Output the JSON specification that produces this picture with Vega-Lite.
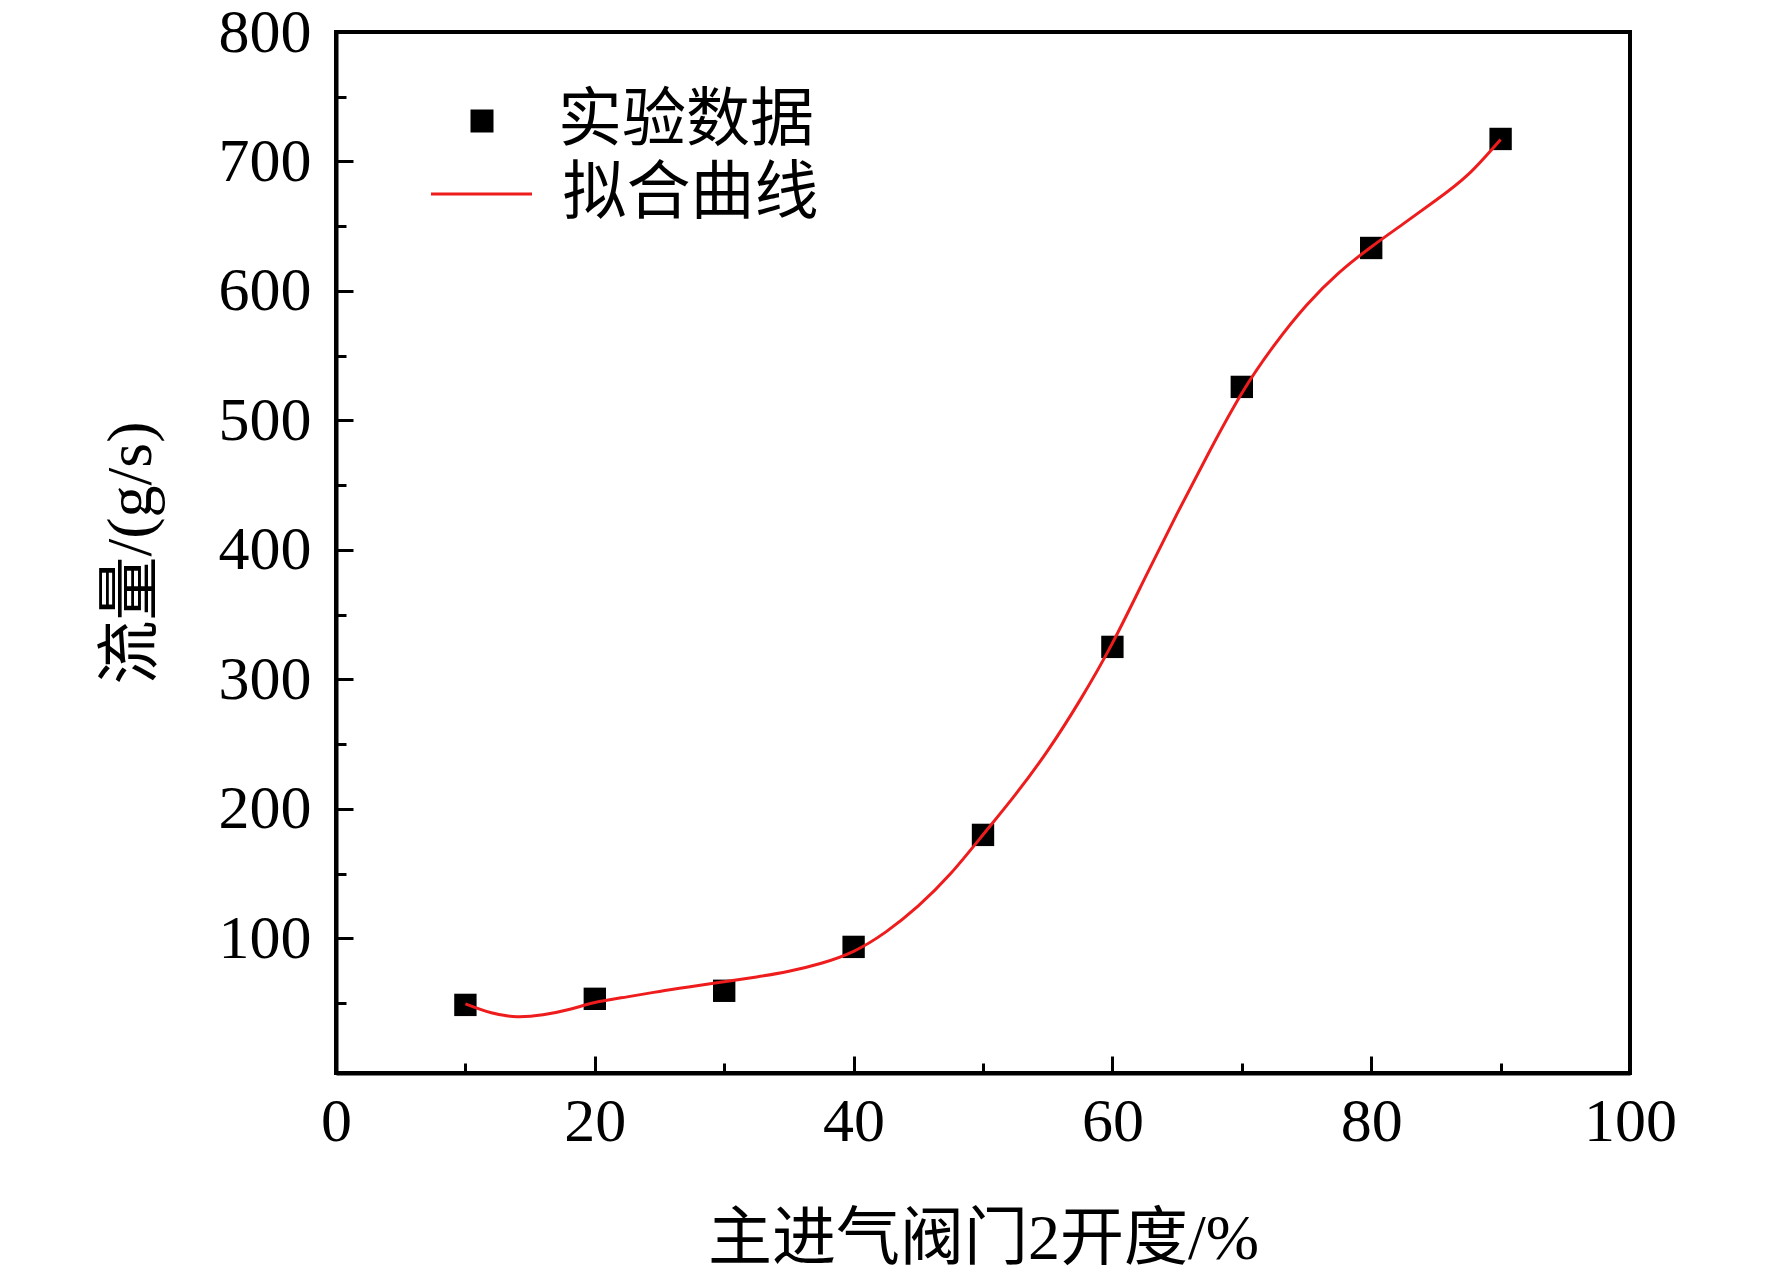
{
  "$schema": "https://vega.github.io/schema/vega-lite/v6.json",
  "width": 1294,
  "height": 1041,
  "autosize": {"type": "none"},
  "padding": {"left": 336, "top": 32, "right": 142, "bottom": 203},
  "background": "white",
  "config": {
    "view": {"stroke": "black", "strokeWidth": 4},
    "axis": {
      "grid": false,
      "domainColor": "black",
      "domainWidth": 4,
      "tickColor": "black",
      "tickWidth": 3,
      "labelColor": "black",
      "labelFont": "Liberation Serif",
      "labelFontSize": 62,
      "titleFont": "Liberation Serif, Noto Sans CJK SC",
      "titleFontSize": 64,
      "titleFontWeight": "normal",
      "titleColor": "black"
    },
    "legend": {
      "orient": "none",
      "title": null,
      "padding": 0,
      "symbolOffset": 0,
      "clipHeight": 72,
      "labelLimit": 0,
      "labelFont": "Liberation Serif, Noto Sans CJK SC",
      "labelFontSize": 64,
      "labelColor": "black"
    }
  },
  "datasets": {
    "points": [
      {"opening": 10, "flow": 48.6, "series": "实验数据"},
      {"opening": 20, "flow": 53.3, "series": "实验数据"},
      {"opening": 30, "flow": 59.5, "series": "实验数据"},
      {"opening": 40, "flow": 93.4, "series": "实验数据"},
      {"opening": 50, "flow": 179.9, "series": "实验数据"},
      {"opening": 60, "flow": 325.1, "series": "实验数据"},
      {"opening": 70, "flow": 525.9, "series": "实验数据"},
      {"opening": 80, "flow": 633.2, "series": "实验数据"},
      {"opening": 90, "flow": 717.4, "series": "实验数据"}
    ],
    "curve": [
      {"opening": 10, "flow": 49.4, "series": "拟合曲线"},
      {"opening": 12, "flow": 42.5, "series": "拟合曲线"},
      {"opening": 14, "flow": 39.5, "series": "拟合曲线"},
      {"opening": 16, "flow": 41, "series": "拟合曲线"},
      {"opening": 18, "flow": 45, "series": "拟合曲线"},
      {"opening": 20, "flow": 50.4, "series": "拟合曲线"},
      {"opening": 22.5, "flow": 54.8, "series": "拟合曲线"},
      {"opening": 25, "flow": 59, "series": "拟合曲线"},
      {"opening": 27.5, "flow": 62.8, "series": "拟合曲线"},
      {"opening": 30, "flow": 66.5, "series": "拟合曲线"},
      {"opening": 32.5, "flow": 70.2, "series": "拟合曲线"},
      {"opening": 35, "flow": 74.6, "series": "拟合曲线"},
      {"opening": 37.5, "flow": 80.8, "series": "拟合曲线"},
      {"opening": 40, "flow": 90, "series": "拟合曲线"},
      {"opening": 42.5, "flow": 105, "series": "拟合曲线"},
      {"opening": 45, "flow": 125, "series": "拟合曲线"},
      {"opening": 47.5, "flow": 150, "series": "拟合曲线"},
      {"opening": 50, "flow": 180, "series": "拟合曲线"},
      {"opening": 52.5, "flow": 211, "series": "拟合曲线"},
      {"opening": 55, "flow": 245, "series": "拟合曲线"},
      {"opening": 57.5, "flow": 284, "series": "拟合曲线"},
      {"opening": 60, "flow": 328, "series": "拟合曲线"},
      {"opening": 62.5, "flow": 378, "series": "拟合曲线"},
      {"opening": 65, "flow": 428, "series": "拟合曲线"},
      {"opening": 67.5, "flow": 476, "series": "拟合曲线"},
      {"opening": 70, "flow": 521, "series": "拟合曲线"},
      {"opening": 72.5, "flow": 558, "series": "拟合曲线"},
      {"opening": 75, "flow": 589, "series": "拟合曲线"},
      {"opening": 77.5, "flow": 614, "series": "拟合曲线"},
      {"opening": 80, "flow": 634, "series": "拟合曲线"},
      {"opening": 82.5, "flow": 652, "series": "拟合曲线"},
      {"opening": 85, "flow": 670, "series": "拟合曲线"},
      {"opening": 87.5, "flow": 690, "series": "拟合曲线"},
      {"opening": 90, "flow": 717, "series": "拟合曲线"}
    ]
  },
  "encoding": {
    "x": {
      "field": "opening",
      "type": "quantitative",
      "scale": {"domain": [0, 100], "nice": false, "zero": false},
      "axis": {
        "values": [0, 10, 20, 30, 40, 50, 60, 70, 80, 90, 100],
        "labelExpr": "datum.value % 20 === 0 ? datum.label : ''",
        "tickSize": {"condition": {"test": "datum.value % 20 === 0", "value": -17}, "value": -10},
        "labelPadding": 35,
        "labelFlush": false,
        "labelOverlap": false,
        "title": "主进气阀门2开度/%",
        "titlePadding": 48
      }
    },
    "y": {
      "field": "flow",
      "type": "quantitative",
      "scale": {"domain": [-4, 800], "nice": false, "zero": false},
      "axis": {
        "values": [50, 100, 150, 200, 250, 300, 350, 400, 450, 500, 550, 600, 650, 700, 750, 800],
        "labelExpr": "datum.value % 100 === 0 ? datum.label : ''",
        "tickSize": {"condition": {"test": "datum.value % 100 === 0", "value": -17}, "value": -10},
        "labelPadding": 42,
        "labelFlush": false,
        "labelOverlap": false,
        "title": "流量/(g/s)",
        "titlePadding": 55
      }
    }
  },
  "layer": [
    {
      "data": {"name": "points"},
      "mark": {"type": "square", "size": 500, "opacity": 1},
      "encoding": {
        "color": {
          "field": "series",
          "type": "nominal",
          "scale": {"domain": ["实验数据"], "range": ["black"]},
          "legend": {
            "legendX": 114,
            "legendY": 53,
            "symbolType": "square",
            "symbolSize": 529,
            "symbolStrokeWidth": 0,
            "symbolOpacity": 1,
            "labelOffset": 44
          }
        }
      }
    },
    {
      "data": {"name": "curve"},
      "mark": {"type": "line", "strokeWidth": 3, "interpolate": "natural"},
      "encoding": {
        "stroke": {
          "field": "series",
          "type": "nominal",
          "scale": {"domain": ["拟合曲线"], "range": ["#ee1c1c"]},
          "legend": {
            "legendX": 93.5,
            "legendY": 126,
            "symbolType": "stroke",
            "symbolSize": 10201,
            "symbolStrokeWidth": 3,
            "labelOffset": 29
          }
        }
      }
    }
  ]
}
